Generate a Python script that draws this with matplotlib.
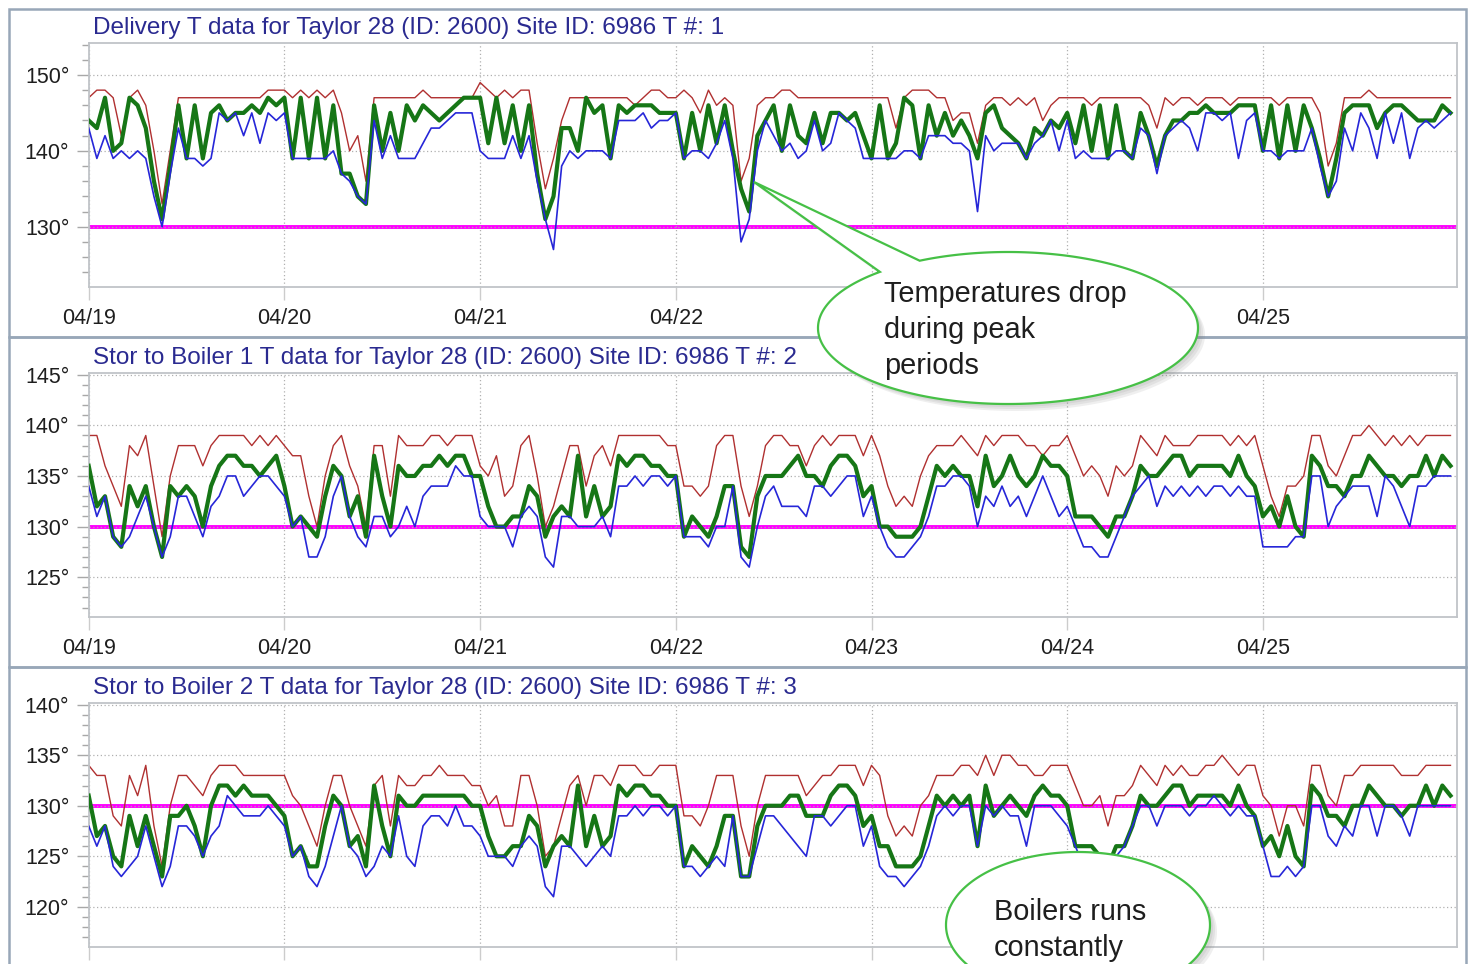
import numpy as np
import matplotlib.pyplot as plt
from matplotlib.patches import Rectangle, Polygon
from matplotlib.ticker import MultipleLocator

plt.rcParams['font.family'] = ['Liberation Sans', 'DejaVu Sans']

# hourly readings, starting 04/19 00:00
days = ['04/19', '04/20', '04/21', '04/22', '04/23', '04/24', '04/25']
limit = 130

titles = ['Delivery T data for Taylor 28 (ID: 2600) Site ID: 6986 T #: 1',
          'Stor to Boiler 1 T data for Taylor 28 (ID: 2600) Site ID: 6986 T #: 2',
          'Stor to Boiler 2 T data for Taylor 28 (ID: 2600) Site ID: 6986 T #: 3']

# --- T#1 delivery ---
dlv_max = [
    147, 148, 148, 147, 142, 147, 148, 146, 140, 133, 140, 147, 147, 147, 147, 147, 147, 147, 147, 147, 147, 147, 148, 148,
    148, 147, 148, 147, 148, 147, 148, 145, 140, 142, 136, 147, 147, 147, 147, 147, 147, 148, 147, 147, 147, 147, 147, 147,
    149, 148, 147, 148, 147, 148, 148, 141, 135, 139, 144, 147, 147, 147, 147, 147, 147, 147, 147, 146, 147, 148, 148, 147,
    147, 148, 147, 145, 148, 146, 147, 146, 136, 139, 146, 147, 147, 148, 148, 147, 147, 147, 147, 147, 147, 147, 147, 147,
    147, 147, 147, 143, 147, 148, 148, 148, 147, 147, 144, 145, 145, 141, 146, 147, 147, 146, 147, 146, 147, 144, 146, 147,
    147, 147, 147, 146, 147, 147, 147, 147, 147, 147, 146, 143, 147, 146, 147, 147, 146, 147, 147, 147, 146, 147, 147, 147,
    147, 147, 146, 147, 147, 147, 147, 145, 138, 141, 147, 147, 147, 148, 147, 147, 147, 147, 147, 147, 147, 147, 147, 147]
dlv_avg = [
    144, 143, 147, 140, 141, 147, 146, 143, 136, 131, 138, 146, 139, 146, 139, 145, 146, 144, 145, 145, 146, 145, 147, 146,
    147, 139, 147, 139, 147, 139, 146, 137, 137, 134, 133, 146, 140, 145, 140, 146, 144, 146, 145, 144, 145, 146, 147, 147,
    147, 141, 147, 141, 146, 140, 146, 137, 131, 134, 143, 143, 140, 147, 145, 146, 139, 146, 145, 146, 146, 146, 145, 145,
    145, 139, 145, 140, 146, 141, 146, 140, 135, 132, 142, 144, 146, 140, 146, 142, 141, 145, 141, 145, 145, 144, 145, 142,
    139, 146, 139, 141, 147, 146, 139, 146, 142, 145, 142, 144, 142, 139, 145, 146, 143, 142, 141, 139, 143, 142, 144, 143,
    145, 141, 146, 140, 146, 139, 146, 140, 139, 145, 142, 138, 142, 144, 144, 145, 145, 146, 145, 145, 145, 146, 146, 146,
    140, 146, 139, 146, 140, 146, 143, 139, 134, 139, 145, 146, 146, 146, 143, 145, 146, 146, 145, 144, 144, 144, 146, 145]
dlv_min = [
    143, 139, 142, 139, 140, 139, 140, 139, 134, 130, 137, 143, 139, 139, 138, 139, 145, 144, 145, 142, 145, 141, 145, 144,
    145, 139, 139, 139, 139, 139, 140, 137, 136, 134, 133, 144, 139, 142, 139, 139, 139, 141, 143, 143, 144, 145, 145, 145,
    140, 139, 139, 139, 142, 139, 142, 136, 131, 127, 138, 140, 139, 140, 140, 140, 139, 144, 144, 144, 145, 143, 144, 144,
    145, 139, 140, 140, 139, 141, 144, 139, 128, 131, 140, 144, 142, 140, 141, 139, 140, 144, 140, 141, 145, 144, 143, 139,
    139, 139, 139, 139, 140, 140, 139, 142, 142, 142, 141, 141, 140, 132, 142, 140, 141, 141, 141, 139, 141, 142, 144, 140,
    144, 139, 140, 139, 139, 139, 140, 140, 139, 143, 142, 137, 142, 143, 144, 143, 140, 145, 145, 144, 145, 139, 144, 145,
    140, 140, 139, 140, 140, 140, 143, 138, 134, 136, 143, 140, 145, 143, 139, 145, 141, 145, 139, 143, 144, 143, 144, 145]

# --- T#2 storage to boiler 1 ---
b1_max = [
    139, 139, 136, 134, 132, 138, 137, 139, 134, 129, 135, 138, 138, 138, 136, 138, 139, 139, 139, 139, 138, 139, 138, 139,
    138, 137, 137, 133, 130, 135, 138, 139, 136, 134, 130, 138, 138, 133, 139, 138, 138, 138, 139, 139, 138, 139, 139, 139,
    136, 135, 137, 133, 134, 138, 139, 135, 130, 132, 135, 138, 138, 134, 137, 138, 136, 139, 139, 139, 139, 139, 139, 138,
    138, 134, 134, 133, 134, 138, 139, 139, 134, 131, 134, 138, 139, 139, 138, 138, 136, 138, 139, 138, 139, 139, 139, 137,
    139, 137, 134, 132, 133, 132, 135, 137, 138, 138, 138, 139, 138, 137, 139, 138, 139, 139, 139, 138, 138, 137, 138, 138,
    139, 137, 135, 136, 135, 133, 136, 135, 136, 139, 138, 137, 139, 138, 138, 138, 139, 139, 139, 139, 138, 139, 138, 139,
    136, 133, 131, 134, 134, 135, 139, 139, 136, 135, 137, 139, 139, 140, 139, 138, 139, 138, 139, 138, 139, 139, 139, 139]
b1_avg = [
    136, 132, 133, 129, 128, 134, 132, 134, 130, 127, 134, 133, 134, 133, 130, 134, 136, 137, 137, 136, 136, 135, 136, 137,
    134, 130, 131, 130, 129, 133, 136, 135, 131, 133, 129, 137, 133, 130, 136, 135, 135, 136, 136, 137, 136, 137, 137, 135,
    135, 132, 130, 130, 131, 131, 134, 133, 129, 131, 132, 131, 137, 131, 134, 131, 132, 137, 136, 137, 137, 136, 136, 135,
    135, 129, 131, 130, 129, 131, 134, 134, 128, 127, 133, 135, 135, 135, 136, 137, 135, 135, 134, 136, 137, 137, 136, 133,
    134, 130, 130, 129, 129, 129, 130, 133, 136, 135, 136, 135, 135, 132, 137, 134, 135, 137, 135, 134, 135, 137, 136, 136,
    135, 131, 131, 131, 130, 129, 131, 131, 133, 136, 135, 135, 136, 137, 137, 135, 136, 136, 136, 136, 135, 137, 135, 134,
    131, 132, 130, 133, 130, 129, 137, 136, 134, 134, 133, 135, 135, 137, 136, 135, 135, 134, 135, 135, 137, 135, 137, 136]
b1_min = [
    134, 131, 133, 129, 128, 129, 131, 133, 130, 127, 129, 133, 133, 131, 129, 132, 133, 135, 135, 133, 134, 135, 135, 134,
    133, 130, 131, 127, 127, 129, 133, 135, 131, 129, 128, 131, 131, 129, 130, 132, 130, 133, 134, 134, 134, 136, 135, 135,
    131, 130, 130, 130, 128, 131, 132, 131, 127, 126, 131, 131, 130, 130, 130, 131, 129, 134, 134, 135, 134, 135, 135, 134,
    135, 129, 129, 129, 128, 130, 130, 134, 127, 126, 130, 133, 134, 132, 132, 132, 131, 134, 134, 133, 134, 135, 135, 131,
    133, 130, 128, 127, 127, 128, 129, 131, 134, 134, 135, 135, 134, 130, 133, 132, 134, 132, 133, 131, 133, 135, 133, 131,
    132, 130, 128, 128, 127, 127, 129, 131, 133, 134, 135, 132, 134, 133, 134, 133, 134, 133, 134, 134, 133, 134, 133, 133,
    128, 128, 128, 128, 129, 129, 135, 135, 130, 132, 133, 134, 134, 134, 131, 135, 134, 132, 130, 134, 134, 135, 135, 135]

# --- T#3 storage to boiler 2 ---
b2_max = [
    134, 133, 133, 129, 128, 133, 131, 134, 128, 124, 130, 133, 133, 132, 131, 133, 134, 134, 134, 133, 133, 133, 133, 133,
    133, 131, 130, 128, 126, 130, 133, 133, 130, 128, 126, 132, 133, 128, 133, 132, 132, 133, 133, 134, 133, 133, 133, 132,
    132, 130, 131, 128, 128, 133, 133, 130, 125, 126, 129, 132, 133, 130, 133, 133, 132, 134, 134, 134, 133, 133, 134, 134,
    134, 129, 129, 128, 130, 133, 133, 133, 128, 125, 130, 133, 133, 133, 133, 133, 131, 132, 133, 133, 134, 134, 134, 132,
    134, 133, 129, 127, 128, 127, 130, 131, 133, 133, 133, 134, 134, 133, 135, 133, 135, 135, 134, 134, 133, 133, 134, 134,
    134, 132, 130, 130, 131, 128, 131, 131, 132, 134, 133, 132, 134, 133, 134, 133, 133, 134, 134, 135, 134, 133, 134, 134,
    131, 130, 127, 130, 130, 128, 134, 134, 131, 130, 133, 133, 134, 134, 134, 134, 134, 133, 133, 133, 134, 134, 134, 134]
b2_avg = [
    131, 127, 128, 125, 124, 129, 126, 129, 126, 123, 129, 129, 130, 128, 125, 130, 132, 132, 131, 132, 131, 131, 131, 130,
    129, 125, 126, 124, 124, 128, 131, 130, 126, 127, 124, 132, 128, 125, 131, 130, 130, 131, 131, 131, 131, 131, 131, 130,
    130, 127, 125, 125, 126, 126, 129, 128, 124, 126, 127, 126, 132, 126, 129, 126, 127, 132, 131, 132, 132, 131, 131, 130,
    130, 124, 126, 125, 124, 126, 129, 129, 123, 123, 128, 130, 130, 130, 131, 131, 129, 129, 129, 131, 132, 132, 131, 128,
    129, 126, 126, 124, 124, 124, 125, 128, 131, 130, 131, 130, 131, 126, 132, 129, 130, 131, 130, 129, 131, 132, 131, 131,
    130, 126, 126, 126, 125, 124, 126, 126, 128, 131, 130, 130, 131, 132, 132, 130, 131, 131, 131, 131, 130, 132, 130, 129,
    126, 127, 125, 128, 125, 124, 132, 131, 129, 129, 128, 130, 130, 132, 131, 130, 130, 129, 130, 130, 132, 130, 132, 131]
b2_min = [
    128, 126, 128, 124, 123, 124, 125, 128, 125, 122, 124, 128, 128, 127, 125, 127, 128, 131, 130, 129, 129, 129, 130, 129,
    128, 125, 126, 123, 122, 124, 127, 130, 126, 125, 123, 124, 126, 125, 129, 125, 124, 128, 129, 129, 128, 130, 128, 128,
    127, 125, 125, 125, 124, 126, 127, 126, 122, 121, 126, 126, 125, 124, 125, 126, 125, 129, 129, 130, 129, 130, 130, 129,
    130, 124, 124, 123, 124, 125, 124, 129, 123, 123, 126, 129, 129, 128, 127, 126, 125, 129, 129, 128, 129, 130, 130, 126,
    128, 124, 123, 123, 122, 123, 124, 126, 129, 130, 129, 130, 130, 126, 130, 129, 130, 129, 129, 126, 130, 130, 130, 129,
    128, 126, 124, 124, 124, 124, 125, 126, 128, 130, 130, 128, 130, 130, 130, 129, 130, 130, 131, 130, 129, 130, 129, 129,
    126, 123, 123, 124, 123, 124, 130, 130, 127, 126, 128, 127, 130, 130, 127, 130, 130, 129, 127, 130, 130, 130, 130, 130]

W, H = 1469, 964
fig = plt.figure(figsize=(W / 100, H / 100), dpi=100)


def fx(x):
    return x / W


def fy(y):
    return 1 - y / H


# (series, ylim, major, minor, frame top/bottom, axes top/bottom, title y, shown day labels)
# the first panel's 04/23 and 04/24 sit under the balloon; the last panel's labels fall below the image
panels = [
    ((dlv_max, dlv_avg, dlv_min), (122.1, 154.25), 10, 2, (9, 337), (42.7, 286.7), 28,
     ['04/19', '04/20', '04/21', '04/22', '', '', '04/25']),
    ((b1_max, b1_avg, b1_min), (121.1, 145.2), 5, 1, (337, 667), (372.7, 616.7), 358, days),
    ((b2_max, b2_avg, b2_min), (116.05, 140.2), 5, 1, (667, 990), (702.7, 946.7), 688, None),
]

for i, (series, ylim, major, minor, frame, box, ty, labels) in enumerate(panels):
    fig.add_artist(Rectangle((fx(9), fy(frame[1])), fx(1466) - fx(9), fy(frame[0]) - fy(frame[1]),
                             fill=False, ec='#98a7b8', lw=1.8, transform=fig.transFigure, zorder=0))
    ax = fig.add_axes([fx(88.7), fy(box[1]), fx(1457) - fx(88.7), fy(box[0]) - fy(box[1])])
    hi, avg, lo = series
    t = np.arange(len(hi))
    ax.axhline(limit, color='#ff00ff', lw=2.8, zorder=1)
    ax.plot(t, hi, color='#b03030', lw=1.0, zorder=2)
    ax.plot(t, avg, color='#167616', lw=3.0, zorder=3, solid_joinstyle='round')
    ax.plot(t, lo, color='#2626d8', lw=1.2, zorder=4)

    ax.set_xlim(0, 167.8)
    ax.set_ylim(*ylim)
    ax.set_xticks(np.arange(len(days)) * 24)
    if labels:
        ax.set_xticklabels(labels)
    else:
        ax.tick_params(axis='x', labelbottom=False)
    ax.yaxis.set_major_locator(MultipleLocator(major))
    ax.yaxis.set_minor_locator(MultipleLocator(minor))
    ax.yaxis.set_major_formatter(lambda v, p: f'{v:.0f}°')
    ax.grid(True, which='major', ls=(0, (1, 2)), color='#b0b0b0', lw=0.9)
    ax.tick_params(axis='y', which='major', length=8.5, width=1, color='#a8a8a8', pad=5.5,
                   labelsize=15.5, labelcolor='#1e1e1e')
    ax.tick_params(axis='y', which='minor', length=5, width=1, color='#a8a8a8')
    ax.tick_params(axis='x', length=9, width=1, color='#cccccc', pad=6.5,
                   labelsize=15.5, labelcolor='#1e1e1e')
    for s in ax.spines.values():
        s.set_color('#c0c4c8')
        s.set_linewidth(1.3)

    fig.text(fx(93), fy(ty), titles[i], fontsize=17.5, color='#2a2a90', va='center', ha='left')


def balloon(cx, cy, a, b, tail=None):
    # ellipse outline in pixel space, optional pointer (tip x, tip y, angle1, angle2)
    if tail:
        tx, ty, a1, a2 = tail
        th = np.radians(np.linspace(a2, a1 + 360, 400))
    else:
        th = np.linspace(0, 2 * np.pi, 400)
    pts = np.column_stack([cx + a * np.cos(th), cy + b * np.sin(th)])
    if tail:
        pts = np.vstack([pts, [tx, ty]])
    return pts


def draw_balloon(pts, text, tx, tcy):
    for off in [7, 5, 3]:
        sh = np.column_stack([fx(pts[:, 0] + off), fy(pts[:, 1] + off)])
        fig.add_artist(Polygon(sh, closed=True, fc='#808080', ec='none', alpha=0.12,
                               transform=fig.transFigure, zorder=5))
    p = np.column_stack([fx(pts[:, 0]), fy(pts[:, 1])])
    fig.add_artist(Polygon(p, closed=True, fc='white', ec='#46c046', lw=1.6,
                           transform=fig.transFigure, zorder=6))
    fig.text(fx(tx), fy(tcy), text, fontsize=20.8, color='#1e1e1e', ha='left', va='center',
             linespacing=1.35, zorder=7)


draw_balloon(balloon(1008, 328, 190, 76, tail=(754, 182, -132.4, -117.7)),
             'Temperatures drop\nduring peak\nperiods', 884, 330)
draw_balloon(balloon(1078, 925, 132, 73),
             'Boilers runs\nconstantly', 994, 930)

fig.savefig('out.png', dpi=100, facecolor='white')
